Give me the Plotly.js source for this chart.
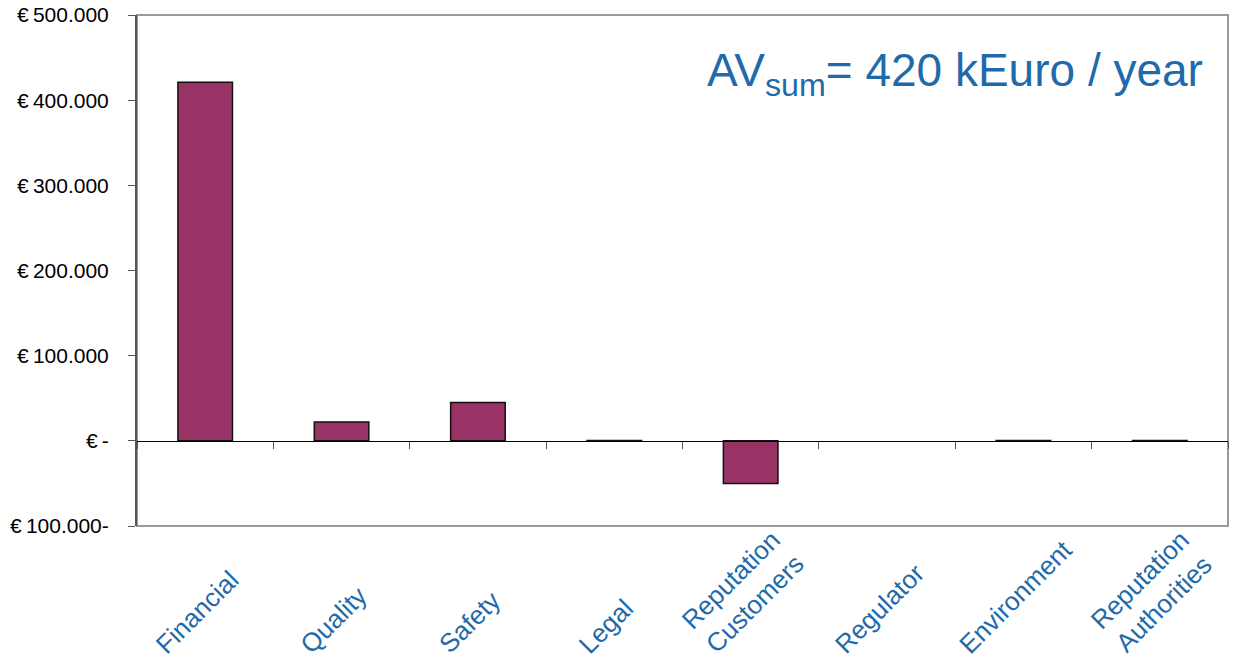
<!DOCTYPE html>
<html>
<head>
<meta charset="utf-8">
<script src="https://cdn.plot.ly/plotly-3.0.1.min.js"></script>
<style>
  html, body { margin: 0; padding: 0; background: #ffffff; }
  #chart { width: 1238px; height: 667px; }
</style>
</head>
<body>
<div id="chart"></div>
<script>
// Annual value per impact category (Euro)
const categories = ["Financial", "Quality", "Safety", "Legal", "Reputation Customers", "Regulator", "Environment", "Reputation Authorities"];
const categoryLabels = ["Financial", "Quality", "Safety", "Legal", "Reputation<br>Customers", "Regulator", "Environment", "Reputation<br>Authorities"];
const values = [421000, 22000, 45000, 500, -50000, null, 500, 500];

// Value axis ticks and their labels
const tickValues = [-100000, 0, 100000, 200000, 300000, 400000, 500000];
const tickLabels = ["€\u2009100.000-", "€\u2009-", "€\u2009100.000", "€\u2009200.000", "€\u2009300.000", "€\u2009400.000", "€\u2009500.000"];

const blue = "#1f6aab";
const font = "Liberation Sans, Arial, sans-serif";
const yMin = -100000, yMax = 500000;

const traces = [
  {
    type: "bar",
    x: categories,
    y: values,
    marker: { color: "#993366", line: { color: "#111111", width: 1.5 } },
    hoverinfo: "x+y"
  },
  {
    // carries the categories onto the zero-line axis
    type: "scatter",
    mode: "markers",
    x: categories,
    y: values.map(() => 0),
    xaxis: "x2",
    marker: { opacity: 0 },
    hoverinfo: "skip",
    showlegend: false
  }
];

// Rotated category labels, centred under each category
const labelAnnotations = categories.map((c, i) => ({
  xref: "x", yref: "paper",
  x: c, y: 0,
  xanchor: "center", yanchor: "bottom",
  xshift: -8, yshift: -136,
  textangle: -45,
  align: "center",
  showarrow: false,
  text: categoryLabels[i],
  font: { family: font, size: 26, color: blue }
}));

const layout = {
  width: 1238,
  height: 667,
  margin: { l: 137, r: 10, t: 15, b: 141 },
  paper_bgcolor: "#ffffff",
  plot_bgcolor: "#ffffff",
  showlegend: false,
  bargap: 0.6,
  font: { family: font, color: "#000000" },
  xaxis: {
    type: "category",
    range: [-0.5, categories.length - 0.5],
    showgrid: false,
    zeroline: false,
    showline: false,
    ticks: "",
    showticklabels: false
  },
  xaxis2: {
    type: "category",
    overlaying: "x",
    anchor: "free",
    position: (0 - yMin) / (yMax - yMin),
    range: [-0.5, categories.length - 0.5],
    showgrid: false,
    zeroline: false,
    showline: true,
    linecolor: "#000000",
    linewidth: 1,
    ticks: "outside",
    tickson: "boundaries",
    ticklen: 7,
    tickcolor: "#555555",
    tickwidth: 1,
    showticklabels: false
  },
  yaxis: {
    range: [yMin, yMax],
    tickmode: "array",
    tickvals: tickValues,
    ticktext: tickLabels,
    showgrid: false,
    zeroline: false,
    showline: true,
    linecolor: "#555555",
    linewidth: 2,
    ticks: "outside",
    ticklen: 7,
    tickcolor: "#555555",
    tickwidth: 1,
    tickfont: { family: font, size: 21, color: "#000000" },
    ticklabelstandoff: 15
  },
  shapes: [
    {
      type: "rect", xref: "paper", yref: "paper",
      x0: 0, x1: 1, y0: 0, y1: 1,
      line: { color: "#9a9a9a", width: 2 },
      layer: "below"
    }
  ],
  annotations: labelAnnotations.concat([
    {
      xref: "paper", yref: "paper",
      x: 0.979, y: 0.886,
      xanchor: "right", yanchor: "middle",
      showarrow: false,
      text: "AV<sub>sum</sub>= 420 kEuro / year",
      font: { family: font, size: 46, color: blue }
    }
  ])
};

Plotly.newPlot("chart", traces, layout, { displayModeBar: false, staticPlot: true });
</script>
</body>
</html>
